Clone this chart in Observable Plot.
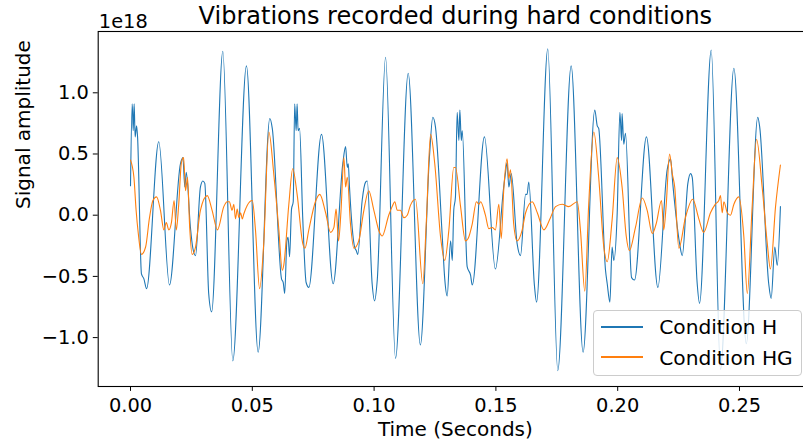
<!DOCTYPE html>
<html>
<head>
<meta charset="utf-8">
<script src="https://cdn.jsdelivr.net/npm/d3@7"></script>
<script src="https://cdn.jsdelivr.net/npm/@observablehq/plot@0.6"></script>
<style>
  html, body { margin: 0; padding: 0; background: white; overflow: hidden; }
  #wrap { position: relative; width: 803px; height: 445px; font-family: "DejaVu Sans", sans-serif; }
  #legend { position: absolute; left: 592.7px; top: 310px; width: 209px; height: 66px; box-sizing: border-box;
            border: 1px solid #cccccc; border-radius: 4px; background: rgba(255,255,255,0.8); }
  .handle { position: absolute; left: 7px; width: 42px; height: 1.5px; }
  .ltext { position: absolute; left: 65.5px; font-size: 20.2px; line-height: 24px; color: #000; white-space: nowrap; }
</style>
</head>
<body>
<div id="wrap"></div>
<script>
// Time (s), amplitude (x1e18)
const conditionH = [
[0,0.24],[0.0007,0.91],[0.0011,0.69],[0.0015,0.91],[0.0019,0.64],[0.0025,0.73],[0.0029,0.64],[0.0045,-0.48],[0.0055,-0.52],[0.0066,-0.60],
[0.0116,0.60],[0.0160,-0.57],[0.0205,0.42],[0.0215,0.47],[0.0223,0.23],[0.0229,0.35],[0.0246,-0.10],[0.0256,-0.27],[0.0267,-0.33],[0.0287,0.23],
[0.0297,0.28],[0.0305,0.26],[0.0321,-0.64],[0.0333,-0.79],[0.0379,1.34],[0.0420,-1.19],[0.0476,1.22],[0.0524,-1.12],[0.0572,0.79],[0.0582,0.71],
[0.0620,-0.52],[0.0627,-0.55],[0.0633,-0.64],[0.0642,-0.21],[0.0647,-0.18],[0.0653,-0.34],[0.0661,0.05],[0.0668,0.11],[0.0674,0.91],[0.0680,0.69],
[0.0684,0.91],[0.0688,0.69],[0.0694,0.71],[0.0707,-0.02],[0.0721,-0.55],[0.0732,-0.59],[0.0784,0.66],[0.0832,-0.56],[0.0872,0.43],[0.0883,0.56],
[0.0890,0.39],[0.0894,0.42],[0.0899,0.23],[0.0910,-0.10],[0.0920,-0.26],[0.0927,-0.29],[0.0933,-0.32],[0.0951,0.12],[0.0965,0.27],[0.0972,0.28],
[0.0992,-0.56],[0.1002,-0.70],[0.1013,-0.53],[0.1047,1.29],[0.1088,-1.17],[0.1140,1.16],[0.1190,-1.06],[0.1227,0.47],[0.1241,0.80],[0.1252,0.72],
[0.1280,-0.18],[0.1290,-0.52],[0.1300,-0.66],[0.1314,-0.21],[0.1321,-0.37],[0.1327,0.04],[0.1334,0.15],[0.1341,0.84],[0.1348,0.61],[0.1352,0.86],
[0.1358,0.61],[0.1362,0.69],[0.1382,-0.42],[0.1396,-0.49],[0.1403,-0.57],[0.1453,0.64],[0.1498,-0.44],[0.1532,0.23],[0.1539,0.34],[0.1546,0.43],
[0.1553,0.23],[0.1563,0.34],[0.1587,-0.23],[0.1601,-0.33],[0.1622,0.17],[0.1628,0.17],[0.1635,0.27],[0.1658,-0.57],[0.1667,-0.71],[0.1713,1.36],
[0.1754,-1.27],[0.1809,1.22],[0.1858,-1.12],[0.1906,0.86],[0.1916,0.73],[0.1922,0.71],[0.1950,-0.45],[0.1957,-0.56],[0.1968,-0.71],[0.1977,-0.26],
[0.1984,-0.37],[0.1998,0.02],[0.2009,0.84],[0.2016,0.61],[0.2018,0.83],[0.2025,0.58],[0.2032,0.67],[0.2057,-0.51],[0.2069,-0.53],[0.2118,0.64],
[0.2165,-0.59],[0.2203,0.37],[0.2217,0.46],[0.2226,0.26],[0.2254,-0.23],[0.2265,-0.33],[0.2288,0.26],[0.2299,0.34],[0.2306,0.31],[0.2326,-0.55],
[0.2336,-0.72],[0.2384,1.35],[0.2422,-1.26],[0.2477,1.20],[0.2528,-1.05],[0.2575,0.80],[0.2583,0.72],[0.2620,-0.56],[0.2630,-0.68],[0.2645,-0.26],
[0.2655,-0.41],[0.2668,0.07]
];
const conditionHG = [
[0,0.45],[0.0014,0.31],[0.0023,0.04],[0.0032,-0.15],[0.0045,-0.32],[0.0062,-0.26],[0.0078,-0.02],[0.0092,0.12],[0.0107,0.15],[0.0123,0.04],
[0.0137,-0.12],[0.0147,-0.06],[0.0157,-0.12],[0.0168,-0.06],[0.0179,0.12],[0.0188,-0.12],[0.0198,0.09],[0.0209,0.43],[0.0218,0.47],[0.0226,0.20],
[0.0234,0.31],[0.0243,-0.10],[0.0253,-0.32],[0.0267,-0.26],[0.0287,0.04],[0.0315,0.16],[0.0335,0.04],[0.0357,-0.12],[0.0383,0.07],[0.0397,0.11],
[0.0406,0.11],[0.0417,0.04],[0.0424,0.09],[0.0431,-0.03],[0.0438,0.05],[0.0445,-0.02],[0.0452,0.02],[0.0459,-0.03],[0.0465,0.01],[0.0479,0.08],
[0.0500,0.12],[0.0513,-0.12],[0.0530,-0.60],[0.0547,-0.23],[0.0568,0.68],[0.0588,0.34],[0.0609,-0.12],[0.0623,-0.45],[0.0629,-0.41],[0.0650,0.09],
[0.0666,0.38],[0.0684,0.17],[0.0707,-0.23],[0.0716,-0.27],[0.0732,-0.12],[0.0759,0.11],[0.0777,0.17],[0.0801,0.02],[0.0821,-0.14],[0.0835,-0.10],
[0.0844,0.05],[0.0854,-0.21],[0.0864,0.03],[0.0876,0.47],[0.0883,0.23],[0.0890,0.31],[0.0903,-0.07],[0.0917,-0.27],[0.0937,-0.21],[0.0958,0.04],
[0.0978,0.20],[0.0999,0.04],[0.1022,-0.14],[0.1033,-0.17],[0.1060,0.00],[0.1074,0.07],[0.1085,0.11],[0.1095,0.04],[0.1108,0.04],[0.1122,-0.02],
[0.1136,0.00],[0.1149,0.08],[0.1170,0.13],[0.1200,-0.56],[0.1214,-0.07],[0.1232,0.66],[0.1249,0.42],[0.1273,-0.18],[0.1290,-0.37],[0.1307,-0.12],
[0.1327,0.39],[0.1334,0.39],[0.1355,0.07],[0.1375,-0.21],[0.1386,-0.19],[0.1403,-0.07],[0.1420,0.11],[0.1430,0.09],[0.1437,0.11],[0.1457,0.00],
[0.1471,-0.11],[0.1485,-0.10],[0.1498,-0.12],[0.1512,0.09],[0.1522,-0.19],[0.1532,0.20],[0.1546,0.46],[0.1553,0.30],[0.1560,0.37],[0.1573,-0.07],
[0.1587,-0.21],[0.1608,-0.12],[0.1622,0.02],[0.1649,0.11],[0.1670,0.02],[0.1697,-0.12],[0.1724,-0.02],[0.1745,0.07],[0.1772,0.09],[0.1799,0.07],
[0.1834,0.11],[0.1847,-0.12],[0.1865,-0.62],[0.1881,0.09],[0.1902,0.68],[0.1922,0.31],[0.1943,-0.26],[0.1957,-0.38],[0.1977,-0.04],[0.1998,0.47],
[0.2018,0.23],[0.2035,-0.17],[0.2048,-0.29],[0.2073,-0.10],[0.2101,0.14],[0.2121,0.04],[0.2142,-0.15],[0.2158,-0.07],[0.2180,0.12],[0.2189,-0.12],
[0.2199,0.08],[0.2213,0.50],[0.2224,0.34],[0.2234,0.23],[0.2251,-0.27],[0.2278,-0.02],[0.2308,0.13],[0.2333,-0.03],[0.2353,-0.14],[0.2381,0.02],
[0.2401,0.09],[0.2415,0.12],[0.2422,0.16],[0.2429,0.02],[0.2436,0.11],[0.2450,0.02],[0.2463,0.00],[0.2477,0.09],[0.2497,0.15],[0.2518,-0.18],
[0.2532,-0.64],[0.2552,0.07],[0.2570,0.62],[0.2593,0.23],[0.2614,-0.23],[0.2627,-0.44],[0.2648,0.07],[0.2668,0.41]
];
const xTicks = [0, 0.05, 0.10, 0.15, 0.20, 0.25];
const yTicks = [-1.0, -0.5, 0.0, 0.5, 1.0];
const seriesNames = ["Condition H", "Condition HG"];
const seriesColors = ["#1f77b4", "#ff7f0e"];
const titleText = "Vibrations recorded during hard conditions";
const offsetText = "1e18";
const xLabel = "Time (Seconds)";
const yLabel = "Signal amplitude";

const yFmt = d => (d < 0 ? "\u2212" : "") + Math.abs(d).toFixed(1);

const chart = Plot.plot({
  width: 803,
  height: 445,
  marginLeft: 97.7,
  marginRight: -9,
  marginTop: 31,
  marginBottom: 59,
  style: { fontFamily: "DejaVu Sans", background: "white", overflow: "hidden", color: "black" },
  x: { domain: [-0.01326, 0.27997] },
  y: { domain: [-1.3995, 1.5008] },
  marks: [
    Plot.line(conditionH, { x: d => d[0], y: d => d[1], stroke: seriesColors[0], strokeWidth: 1.1, curve: "monotone-x" }),
    Plot.line(conditionHG, { x: d => d[0], y: d => d[1], stroke: seriesColors[1], strokeWidth: 1.1, curve: "monotone-x" }),
    Plot.frame({ stroke: "black", strokeWidth: 1.1 }),
    Plot.axisX({ ticks: xTicks, tickFormat: d => d.toFixed(2), tickSize: 4.9, tickPadding: 7, fontSize: 19.4, label: null }),
    Plot.axisY({ ticks: yTicks, tickFormat: yFmt, tickSize: 4.9, tickPadding: 4.5, fontSize: 19.4, label: null }),
    Plot.text([titleText], { text: d => d, frameAnchor: "top", lineAnchor: "middle", dy: -14.7, fontSize: 24 }),
    Plot.text([offsetText], { text: d => d, frameAnchor: "top-left", lineAnchor: "middle", textAnchor: "start", dx: 0.6, dy: -9.9, fontSize: 19.4 }),
    Plot.text([xLabel], { text: d => d, frameAnchor: "bottom", lineAnchor: "middle", dy: 42.6, fontSize: 20 }),
    Plot.text([yLabel], { text: d => d, frameAnchor: "left", lineAnchor: "middle", rotate: -90, dx: -74.8, fontSize: 20 })
  ]
});

const wrap = document.getElementById("wrap");
wrap.appendChild(chart);

const legend = document.createElement("div");
legend.id = "legend";
const rowY = [15.5, 46.2];
seriesNames.forEach((name, i) => {
  const h = document.createElement("div");
  h.className = "handle";
  h.style.top = Math.round(rowY[i] - 0.75) + "px";
  h.style.background = seriesColors[i];
  legend.appendChild(h);
  const t = document.createElement("div");
  t.className = "ltext";
  t.style.top = (rowY[i] - 11.6) + "px";
  t.textContent = name;
  legend.appendChild(t);
});
wrap.appendChild(legend);
</script>
</body>
</html>
